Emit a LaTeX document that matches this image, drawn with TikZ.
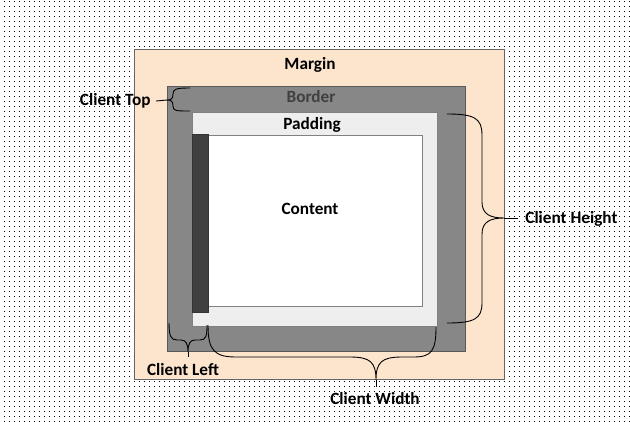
\documentclass[tikz,border=0pt]{standalone}
\usepackage{fontspec}
\setmainfont{Carlito}
\usetikzlibrary{patterns.meta}
\definecolor{marginfill}{HTML}{FCE4CD}
\definecolor{borderfill}{HTML}{878787}
\definecolor{paddingfill}{HTML}{EEEEEE}
\definecolor{scrollfill}{HTML}{404040}
\tikzdeclarepattern{name=pixdots,type=uncolored,bounding box={(0pt,0pt) and (5pt,5pt)},tile size={(5pt,5pt)},code={\fill (0pt,0pt) rectangle (1.1pt,1.1pt);}}
\begin{document}
\begin{tikzpicture}[x=1pt,y=-1pt,thick,
    lbl/.style={font=\fontsize{17.2}{20}\selectfont\bfseries,inner sep=0},
    brace/.style={black,line width=0.9pt}]
        \useasboundingbox (0,0) rectangle (630,421);
        \fill[pattern=pixdots,pattern color=black] (0,0) rectangle (630,421);
        % boxes
        \draw[fill=marginfill,draw=gray!80!black,line width=1pt] (134,49) rectangle (504,379);
        \draw[fill=borderfill,draw=black!65,line width=1pt] (167,86) rectangle (465,351);
        \draw[fill=paddingfill,draw=black!50,line width=1pt] (192,112) rectangle (437,326);
        \draw[fill=white,draw=black!50,line width=1pt] (208,135) rectangle (422,306);
        \draw[fill=scrollfill,draw=black!80,line width=1pt] (192,134) rectangle (208,312);
        \node[lbl] (margin) at (310,65) {Margin};
        \node[lbl,text=scrollfill] (border) at (311,97) {Border};
        \node[lbl] (padding) at (312,125) {Padding};
        \node[lbl] (content) at (310,209) {Content};
        % braces
        \draw[brace] (190,88) .. controls (176,88) and (173,89) .. (173,94) .. controls (173,99) and (171,100) .. (167,100) coordinate (toptip)
            .. controls (171,100) and (173,101) .. (173,106) .. controls (173,111) and (176,111) .. (190,111);
        \draw[brace] (447,114) .. controls (474,114) and (482,118) .. (482,135) -- (482,202) .. controls (482,214) and (490,218) .. (504,218) coordinate (heighttip)
            .. controls (490,218) and (482,222) .. (482,234) -- (482,303) .. controls (482,319) and (474,323) .. (447,323);
        \draw[brace] (169,323) .. controls (169,336) and (171,340) .. (177,340) -- (181,340) .. controls (186,340) and (188,344) .. (188,352) coordinate (lefttip)
            .. controls (188,344) and (190,340) .. (195,340) -- (200,340) .. controls (206,340) and (207,336) .. (207,325);
        \draw[brace] (208,325) .. controls (208,350) and (214,357) .. (236,357) -- (350,357) .. controls (370,357) and (376,362) .. (376,380) coordinate (widthtip)
            .. controls (376,362) and (382,357) .. (402,357) -- (414,357) .. controls (432,357) and (436,350) .. (436,327);
        % labels
        \node[lbl,anchor=east] (clienttop) at (151,101) {Client Top};
        \node[lbl,anchor=west] (clientheight) at (525,219) {Client Height};
        \node[lbl] (clientleft) at (183,370) {Client Left};
        \node[lbl] (clientwidth) at (375,399) {Client Width};
        \draw[brace] (toptip) -- (clienttop.east-|156,0);
        \draw[brace] (heighttip) -- (518,218);
        \draw[brace] (lefttip) -- (188,357);
        \draw[brace] (widthtip) -- (376,387);
    \end{tikzpicture}
\end{document}
